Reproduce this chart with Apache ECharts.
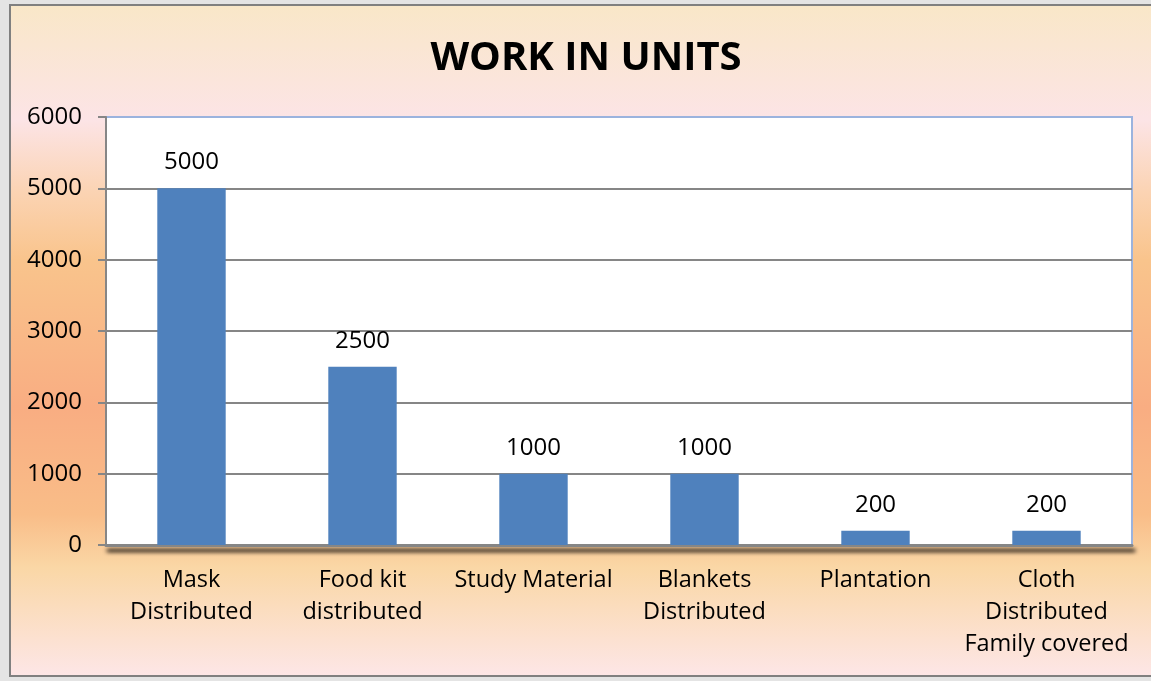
<!DOCTYPE html>
<html>
<head>
<meta charset="utf-8">
<script src="https://cdn.jsdelivr.net/npm/echarts@6/dist/echarts.min.js"></script>
<style>
  html, body { margin: 0; padding: 0; width: 1151px; height: 681px; overflow: hidden; background: #e4e4e4; }
  #chart {
    position: absolute; left: 9px; top: 4px; width: 1150px; height: 669px;
    border: 2px solid #808080;
    background: linear-gradient(to bottom,
      #f9e7c8 0%, #fce4e6 17%, #fbd3b2 28%, #f9c48c 38%, #f9ad82 60%, #f9bd88 76%, #fad7a6 84%, #fde6e6 100%);
  }
</style>
</head>
<body>
<div id="chart"></div>
<script>
// Chart data
const categories = ['Mask\nDistributed', 'Food kit\ndistributed', 'Study Material', 'Blankets\nDistributed', 'Plantation', 'Cloth\nDistributed\nFamily covered'];
const units = [5000, 2500, 1000, 1000, 200, 200];
const yTicks = { min: 0, max: 6000, interval: 1000 };

const chart = echarts.init(document.getElementById('chart'));
const font = '"Open Sans", sans-serif';

chart.setOption({
  backgroundColor: 'transparent',
  title: {
    text: 'WORK IN UNITS',
    left: 'center',
    top: 28,
    textStyle: { fontFamily: font, fontSize: 40, fontWeight: 'bold', color: '#000' }
  },
  grid: {
    left: 95, top: 111, width: 1026, height: 428,
    show: true, backgroundColor: '#fff', borderColor: '#9bb3de', borderWidth: 2
  },
  xAxis: {
    type: 'category',
    data: categories,
    axisLine: {
      lineStyle: {
        color: '#868686', width: 3,
        shadowColor: 'rgba(0,0,0,1)', shadowBlur: 4, shadowOffsetY: 5, shadowOffsetX: 2
      }
    },
    axisTick: { length: 7, lineStyle: { color: '#868686', width: 2 } },
    axisLabel: { fontFamily: font, fontSize: 23.5, color: '#000', lineHeight: 32, margin: 19, interval: 0 }
  },
  yAxis: {
    type: 'value',
    min: yTicks.min, max: yTicks.max, interval: yTicks.interval,
    axisLine: { show: true, lineStyle: { color: '#868686', width: 2 } },
    axisTick: { show: true, length: 8, lineStyle: { color: '#868686', width: 2 } },
    axisLabel: { fontFamily: font, fontSize: 24, color: '#000', margin: 24, formatter: v => String(v) },
    splitLine: { showMaxLine: false, lineStyle: { color: '#868686', width: 2 } }
  },
  series: [{
    type: 'bar',
    data: units,
    barWidth: '40%',
    itemStyle: { color: '#4f81bd' },
    label: {
      show: true, position: 'top', distance: 14,
      fontFamily: font, fontSize: 24, color: '#000'
    }
  }]
});
</script>
</body>
</html>
